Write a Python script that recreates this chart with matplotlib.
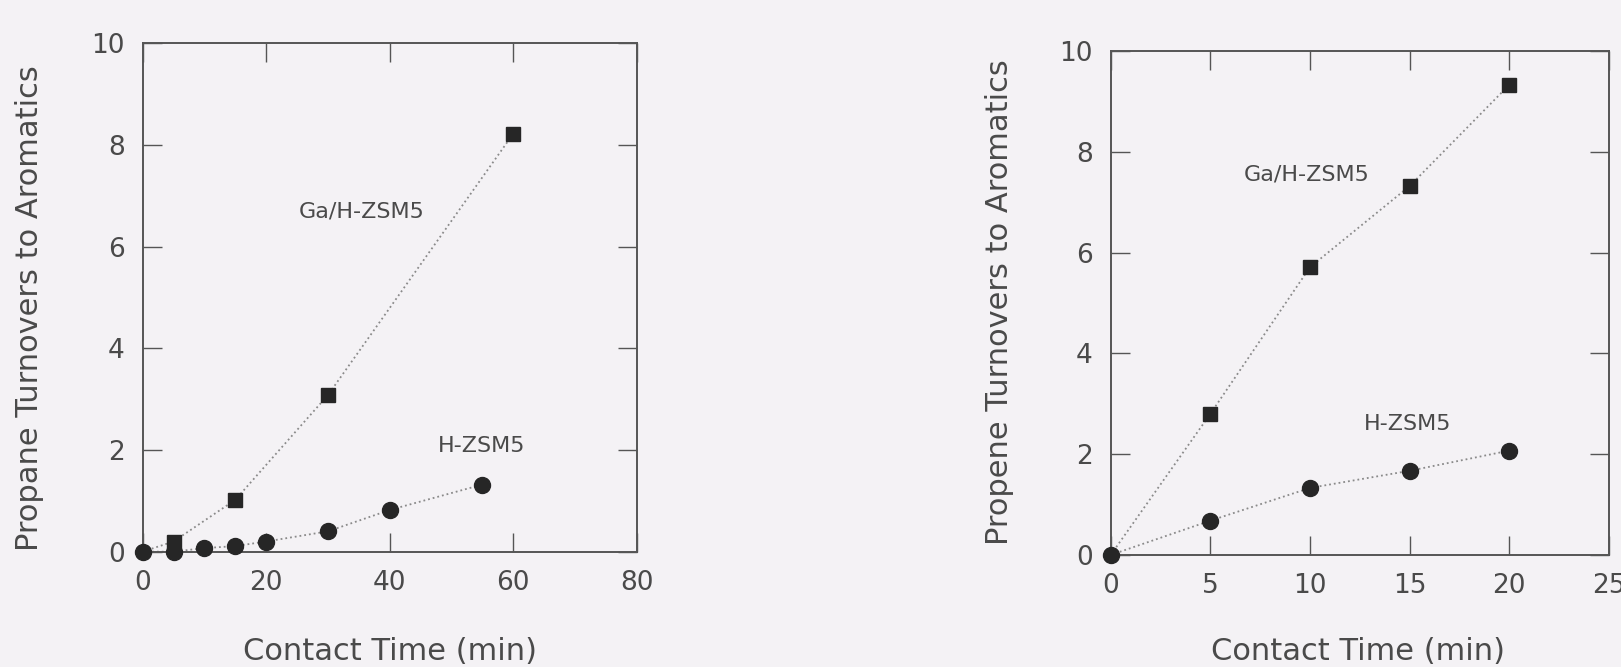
import matplotlib
matplotlib.use("Agg")
import matplotlib.pyplot as plt

# Left panel: propane
left_ga_x = [0, 5, 15, 30, 60]
left_ga_y = [0, 0.2, 1.02, 3.08, 8.22]
left_h_x = [0, 5, 10, 15, 20, 30, 40, 55]
left_h_y = [0, 0, 0.07, 0.11, 0.2, 0.4, 0.82, 1.32]

# Right panel: propene
right_ga_x = [0, 5, 10, 15, 20]
right_ga_y = [0, 2.8, 5.71, 7.32, 9.33]
right_h_x = [0, 5, 10, 15, 20]
right_h_y = [0, 0.68, 1.33, 1.67, 2.07]

left_xticks = [0, 20, 40, 60, 80]
right_xticks = [0, 5, 10, 15, 20, 25]
yticks = [0, 2, 4, 6, 8, 10]

bg = "#f4f2f5"
txt = "#4a4a4a"
mk = "#262626"
ln = "#8a8a8a"

plt.rcParams['font.family'] = ['DejaVu Sans']

fig = plt.figure(figsize=(16.21, 6.67), dpi=100, facecolor=bg)


def style(ax, xticks, xmax):
    ax.set_facecolor(bg)
    ax.set_xlim(0, xmax)
    ax.set_ylim(0, 10)
    ax.set_xticks(xticks)
    ax.set_yticks(yticks)
    ax.tick_params(direction='in', length=14, width=1.0, color="#555555",
                   labelsize=19, labelcolor=txt, pad=13,
                   top=True, right=True)
    for s in ax.spines.values():
        s.set_color("#555555")
        s.set_linewidth(1.4)
    for lab in ax.get_xticklabels() + ax.get_yticklabels():
        lab.set_clip_on(False)


# left panel
ax1 = fig.add_axes([0.088, 0.1729, 0.3048, 0.7622])
style(ax1, left_xticks, 80)
ax1.plot(left_ga_x, left_ga_y, linestyle=':', color=ln, lw=1.3, zorder=2)
ax1.plot(left_h_x, left_h_y, linestyle=':', color=ln, lw=1.3, zorder=2)
ax1.plot(left_ga_x[1:], left_ga_y[1:], 's', color=mk, ms=10.5, zorder=4, clip_on=False)
ax1.plot(left_h_x, left_h_y, 'o', color=mk, ms=11.5, zorder=3, clip_on=False)
ax1.text(35.4, 6.69, "Ga/H-ZSM5", fontsize=16, color=txt, ha='center', va='center')
ax1.text(54.9, 2.07, "H-ZSM5", fontsize=16, color=txt, ha='center', va='center')
ax1.set_xlabel("Contact Time (min)", fontsize=22, color=txt)
ax1.set_ylabel("Propane Turnovers to Aromatics", fontsize=22, color=txt)
ax1.xaxis.set_label_coords(0.5, -0.168)
ax1.yaxis.set_label_coords(-0.2, 0.48)

# right panel
ax2 = fig.add_axes([0.6852, 0.168, 0.3074, 0.7556])
style(ax2, right_xticks, 25)
ax2.plot(right_ga_x, right_ga_y, linestyle=':', color=ln, lw=1.3, zorder=2)
ax2.plot(right_h_x, right_h_y, linestyle=':', color=ln, lw=1.3, zorder=2)
ax2.plot(right_ga_x[1:], right_ga_y[1:], 's', color=mk, ms=10.5, zorder=4, clip_on=False)
ax2.plot(right_h_x, right_h_y, 'o', color=mk, ms=11.5, zorder=3, clip_on=False)
ax2.text(9.83, 7.54, "Ga/H-ZSM5", fontsize=16, color=txt, ha='center', va='center')
ax2.text(14.9, 2.6, "H-ZSM5", fontsize=16, color=txt, ha='center', va='center')
ax2.set_xlabel("Contact Time (min)", fontsize=22, color=txt)
ax2.set_ylabel("Propene Turnovers to Aromatics", fontsize=22, color=txt)
ax2.xaxis.set_label_coords(0.496, -0.163)
ax2.yaxis.set_label_coords(-0.194, 0.502)

fig.savefig("out.png", dpi=100, facecolor=bg)
